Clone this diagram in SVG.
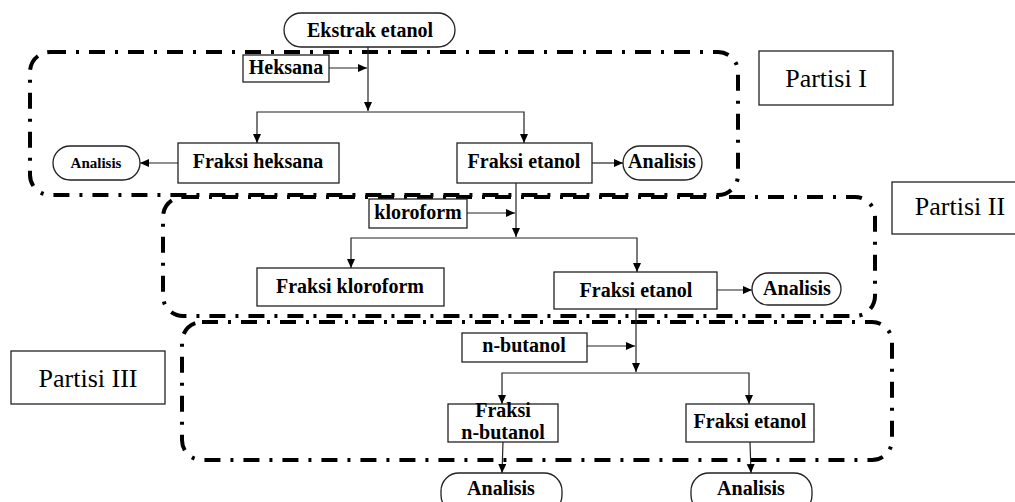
<svg xmlns="http://www.w3.org/2000/svg" width="1015" height="502" viewBox="0 0 1015 502">
<style>
.box{fill:#fff;stroke:#222;stroke-width:1.3}
.t{font-family:"Liberation Serif",serif;font-weight:bold;font-size:20px;fill:#000;text-anchor:middle}
.ts{font-size:15px}
.lab{font-family:"Liberation Serif",serif;font-size:26px;fill:#000;text-anchor:middle}
.region{fill:none;stroke:#000;stroke-width:4;stroke-dasharray:16 10 3 10}
.c{fill:none;stroke:#222;stroke-width:1.2}
</style>
<defs>
<marker id="ah" markerUnits="userSpaceOnUse" markerWidth="10" markerHeight="10" refX="9" refY="4" orient="auto">
<path d="M0,0 L9,4 L0,8 Z" fill="#000"/>
</marker>
</defs>
<g id="regions">
<rect class="region" x="30" y="52" width="708" height="143" rx="20"/>
<rect class="region" x="163" y="197" width="712" height="119" rx="20"/>
<rect class="region" x="182" y="322" width="710" height="138" rx="20"/>
</g>
<g id="connectors">
<line class="c" x1="368" y1="47" x2="368" y2="111" marker-end="url(#ah)"/>
<line class="c" x1="329" y1="68" x2="367" y2="68" marker-end="url(#ah)"/>
<path class="c" d="M368,112 H257 V143" marker-end="url(#ah)"/>
<path class="c" d="M368,112 H524 V143" marker-end="url(#ah)"/>
<line class="c" x1="178" y1="163" x2="140" y2="163" marker-end="url(#ah)"/>
<line class="c" x1="592" y1="163" x2="623" y2="163" marker-end="url(#ah)"/>
<line class="c" x1="516" y1="183" x2="516" y2="237" marker-end="url(#ah)"/>
<line class="c" x1="467" y1="213" x2="515" y2="213" marker-end="url(#ah)"/>
<path class="c" d="M516,238 H351 V268" marker-end="url(#ah)"/>
<path class="c" d="M516,238 H637 V272" marker-end="url(#ah)"/>
<line class="c" x1="717" y1="290" x2="752" y2="290" marker-end="url(#ah)"/>
<line class="c" x1="636" y1="309" x2="636" y2="372" marker-end="url(#ah)"/>
<line class="c" x1="587" y1="346" x2="635" y2="346" marker-end="url(#ah)"/>
<path class="c" d="M636,373 H502 V404" marker-end="url(#ah)"/>
<path class="c" d="M636,373 H749 V404" marker-end="url(#ah)"/>
<line class="c" x1="503" y1="442" x2="502" y2="473" marker-end="url(#ah)"/>
<line class="c" x1="750" y1="442" x2="751" y2="473" marker-end="url(#ah)"/>
</g>
<g id="ekstrak"><rect class="box" x="284" y="13" width="171" height="34" rx="17"/><text class="t" x="370" y="37">Ekstrak etanol</text></g>
<g id="heksana"><rect class="box" x="243" y="55" width="86" height="27"/><text class="t" x="286" y="74">Heksana</text></g>
<g id="fraksi-heksana"><rect class="box" x="178" y="143" width="161" height="40"/><text class="t" x="258" y="168">Fraksi heksana</text></g>
<g id="analisis1"><rect class="box" x="53" y="146" width="87" height="34" rx="17"/><text class="t ts" x="96" y="168">Analisis</text></g>
<g id="fraksi-etanol1"><rect class="box" x="457" y="143" width="135" height="40"/><text class="t" x="524" y="168">Fraksi etanol</text></g>
<g id="analisis2"><rect class="box" x="623" y="146" width="79" height="34" rx="17"/><text class="t" x="662" y="168">Analisis</text></g>
<g id="partisi1"><rect class="box" x="759" y="51" width="134" height="54"/><text class="lab" x="826" y="87">Partisi I</text></g>
<g id="kloroform"><rect class="box" x="369" y="199" width="98" height="29"/><text class="t" x="418" y="219">kloroform</text></g>
<g id="fraksi-kloroform"><rect class="box" x="257" y="268" width="187" height="38"/><text class="t" x="350" y="293">Fraksi kloroform</text></g>
<g id="fraksi-etanol2"><rect class="box" x="554" y="272" width="163" height="37"/><text class="t" x="636" y="297">Fraksi etanol</text></g>
<g id="analisis3"><rect class="box" x="752" y="273" width="89" height="32" rx="16"/><text class="t" x="797" y="295">Analisis</text></g>
<g id="partisi2"><rect class="box" x="892" y="182" width="140" height="52"/><text class="lab" x="960" y="215">Partisi II</text></g>
<g id="n-butanol"><rect class="box" x="462" y="333" width="125" height="29"/><text class="t" x="524" y="352">n-butanol</text></g>
<g id="fraksi-n-butanol"><rect class="box" x="448" y="404" width="110" height="38"/><text class="t" x="503" y="417">Fraksi</text><text class="t" x="503" y="439">n-butanol</text></g>
<g id="fraksi-etanol3"><rect class="box" x="686" y="404" width="128" height="38"/><text class="t" x="750" y="428">Fraksi etanol</text></g>
<g id="analisis4"><rect class="box" x="441" y="473" width="121" height="40" rx="18"/><text class="t" x="501" y="495">Analisis</text></g>
<g id="analisis5"><rect class="box" x="691" y="473" width="121" height="40" rx="18"/><text class="t" x="751" y="495">Analisis</text></g>
<g id="partisi3"><rect class="box" x="11" y="351" width="154" height="53"/><text class="lab" x="88" y="387">Partisi III</text></g>
</svg>
